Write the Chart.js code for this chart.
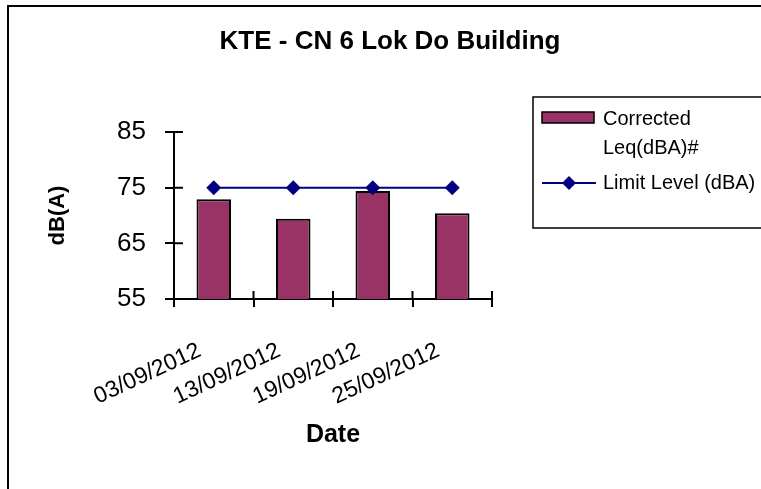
<!DOCTYPE html>
<html><head><meta charset="utf-8">
<script src="https://cdn.jsdelivr.net/npm/chart.js@4/dist/chart.umd.min.js"></script>
<style>html,body{margin:0;padding:0;background:#fff;overflow:hidden;}</style>
</head><body>
<canvas id="c" width="761" height="489"></canvas>
<script>
const categories = ['03/09/2012', '13/09/2012', '19/09/2012', '25/09/2012'];
const correctedLeq = [72.9, 69.4, 74.4, 70.4];
const limitLevel = [75, 75, 75, 75];
const yTicks = [55, 65, 75, 85];
const chartTitle = 'KTE - CN 6 Lok Do Building';
const barName = ['Corrected', 'Leq(dBA)#'];
const lineName = 'Limit Level (dBA)';
const xTitle = 'Date';
const yTitle = 'dB(A)';

const FONT = "'Liberation Sans', Arial, sans-serif";
const BAR_COLOR = '#993366';
const LINE_COLOR = '#000080';

const decor = {
  id: 'decor',
  afterDraw(chart) {
    const {ctx, scales: {x, y}, chartArea: a} = chart;
    ctx.save();
    // outer frame
    ctx.lineWidth = 2; ctx.strokeStyle = '#000';
    ctx.strokeRect(8, 6, 820, 540);
    // inner halves of the tick marks
    ctx.beginPath();
    y.ticks.forEach((t, i) => { const py = y.getPixelForTick(i); ctx.moveTo(a.left, py); ctx.lineTo(a.left + 9, py); });
    for (let i = 0; i <= categories.length; i++) {
      const px = x.getPixelForValue(i - 0.5);
      ctx.moveTo(px, a.bottom); ctx.lineTo(px, a.bottom - 8);
    }
    ctx.stroke();
    // title
    ctx.fillStyle = '#000';
    ctx.font = 'bold 26px ' + FONT;
    ctx.textAlign = 'center'; ctx.textBaseline = 'alphabetic';
    ctx.fillText(chartTitle, 390, 49);
    // legend
    const ds = chart.data.datasets;
    ctx.lineWidth = 1.5; ctx.strokeStyle = '#000';
    ctx.strokeRect(533, 97, 300, 131);
    ctx.fillStyle = ds[0].backgroundColor;
    ctx.fillRect(542, 112, 52, 11);
    ctx.strokeRect(542, 112, 52, 11);
    ctx.strokeStyle = ds[1].borderColor; ctx.lineWidth = 2;
    ctx.beginPath(); ctx.moveTo(542, 183); ctx.lineTo(596, 183); ctx.stroke();
    ctx.fillStyle = ds[1].pointBackgroundColor;
    ctx.beginPath(); ctx.moveTo(569, 176); ctx.lineTo(576, 183); ctx.lineTo(569, 190); ctx.lineTo(562, 183); ctx.closePath(); ctx.fill();
    ctx.fillStyle = '#000';
    ctx.font = '20px ' + FONT; ctx.textAlign = 'left';
    const lbl = ds[0].label;
    ctx.fillText(lbl[0], 603, 125);
    ctx.fillText(lbl[1], 603, 154);
    ctx.fillText(ds[1].label, 603, 189);
    ctx.restore();
  }
};

new Chart(document.getElementById('c'), {
  data: {
    labels: categories,
    datasets: [
      { type: 'bar', label: barName, data: correctedLeq, backgroundColor: BAR_COLOR, borderColor: '#000',
        borderWidth: 2, categoryPercentage: 1, barPercentage: 0.434, order: 1 },
      { type: 'line', label: lineName, data: limitLevel, borderColor: LINE_COLOR, backgroundColor: LINE_COLOR,
        borderWidth: 2, pointStyle: 'rectRot', pointRadius: 7.5, pointHoverRadius: 7.5,
        pointBackgroundColor: LINE_COLOR, pointBorderColor: LINE_COLOR, pointBorderWidth: 0, order: 0 }
    ]
  },
  options: {
    responsive: false, animation: false, devicePixelRatio: 1,
    layout: { padding: { left: 8, top: 132, right: 269, bottom: 0 } },
    plugins: { legend: { display: false }, title: { display: false }, tooltip: { enabled: false } },
    scales: {
      x: {
        type: 'category', offset: true,
        grid: { offset: true, drawOnChartArea: false, drawTicks: true, tickLength: 8, color: '#000', lineWidth: 2 },
        border: { color: '#000', width: 2 },
        ticks: { color: '#000', font: { family: FONT, size: 23 }, minRotation: 25, maxRotation: 25, autoSkip: false, padding: 30, labelOffset: -14 },
        title: { display: true, text: xTitle, color: '#000', font: { family: FONT, size: 25, weight: 'bold' }, padding: { top: 0, bottom: 39 } },
        afterFit(s) { s.height = 190; }
      },
      y: {
        min: 55, max: 85,
        afterBuildTicks(s) { s.ticks = yTicks.map(v => ({ value: v })); },
        grid: { drawOnChartArea: false, drawTicks: true, tickLength: 9, color: '#000', lineWidth: 2 },
        border: { color: '#000', width: 2 },
        ticks: { color: '#000', font: { family: FONT, size: 26 }, padding: 19 },
        title: { display: true, text: yTitle, color: '#000', font: { family: FONT, size: 22, weight: 'bold' }, padding: { top: 37, bottom: 0 } },
        afterFit(s) { s.width = 166; }
      }
    }
  },
  plugins: [decor]
});
</script>
</body></html>
